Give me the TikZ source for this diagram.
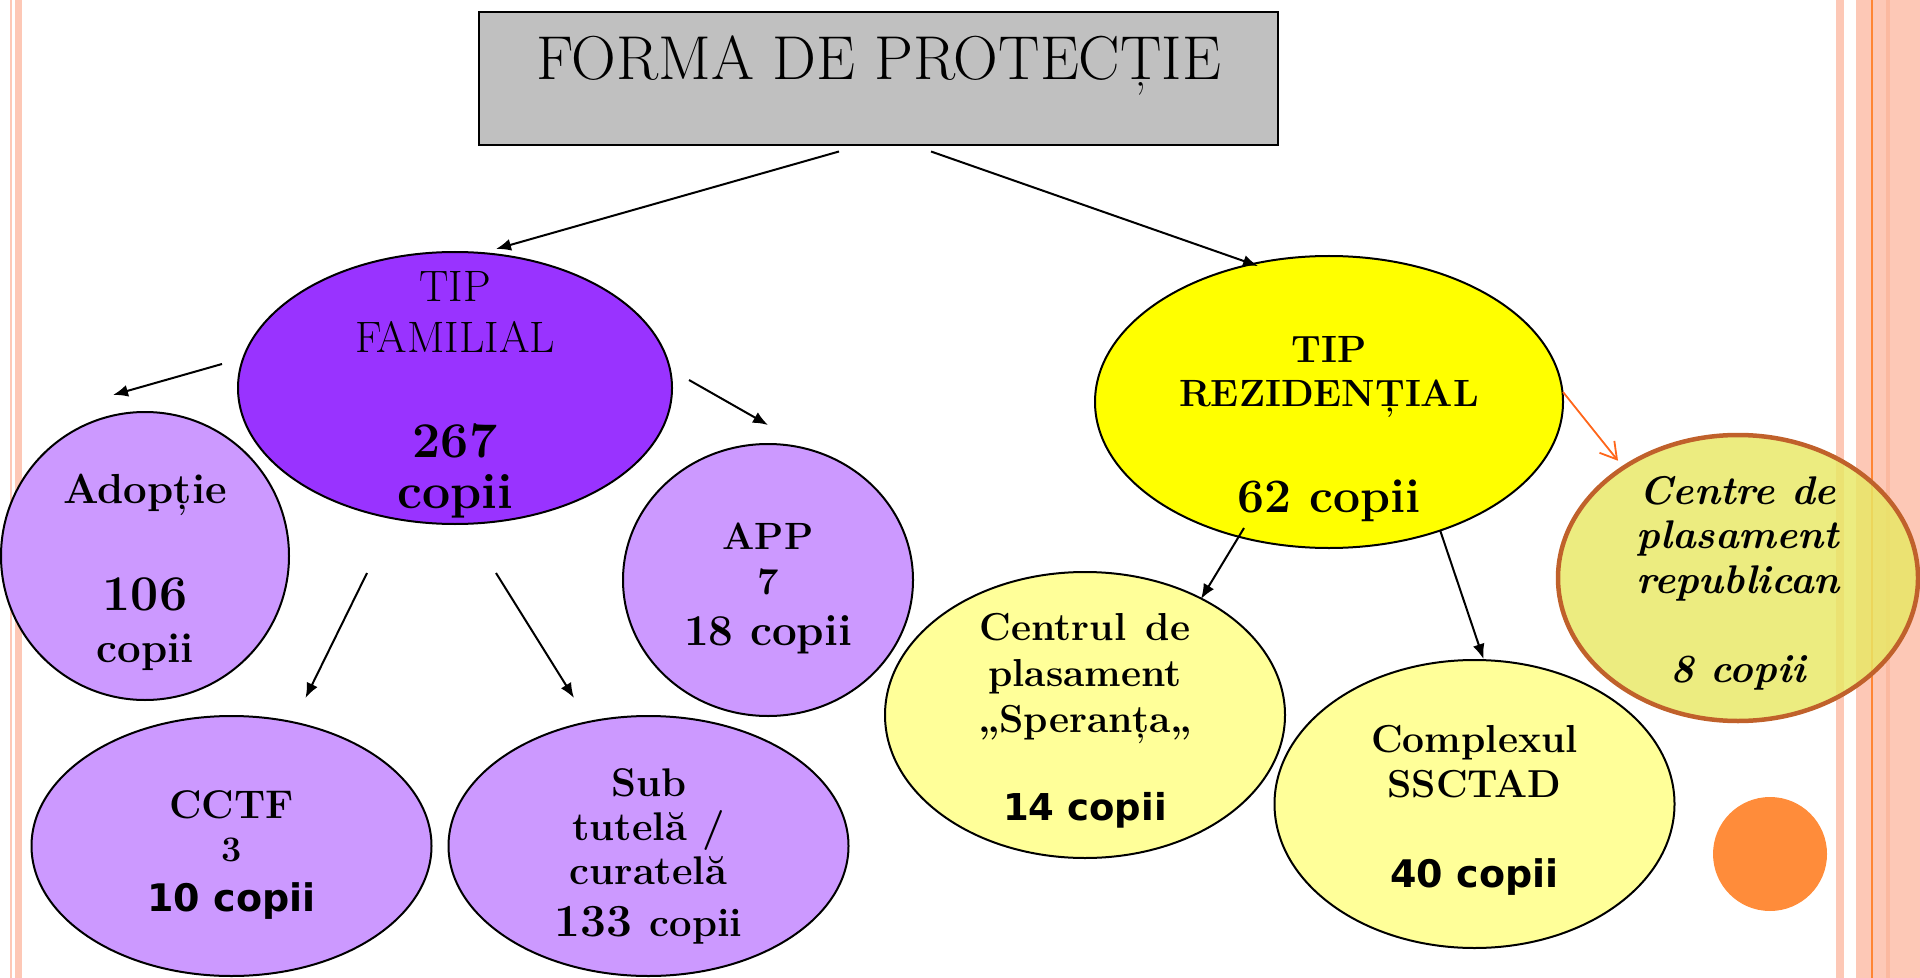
\documentclass[tikz,border=0pt]{standalone}
\usepackage{fontspec}
\newfontfamily\vsans{DejaVu Sans}
\usetikzlibrary{shapes.geometric,arrows.meta}

\definecolor{famviolet}{HTML}{9933FF}
\definecolor{lilac}{HTML}{CC99FF}
\definecolor{rezyellow}{HTML}{FFFF00}
\definecolor{paleyellow}{HTML}{FFFF99}
\definecolor{repyellow}{RGB}{232,232,100}
\definecolor{repborder}{RGB}{192,97,43}
\definecolor{titlegray}{HTML}{C0C0C0}
\definecolor{bandpink}{RGB}{253,200,182}
\definecolor{banddark}{RGB}{251,185,160}
\definecolor{bandorange}{RGB}{255,133,51}
\definecolor{dotorange}{RGB}{255,140,58}
\definecolor{arroworange}{RGB}{255,102,26}

% text block that does not change the size of its bubble
\newcommand\inbox[2][0pt]{\smash{\makebox[0pt]{\raisebox{#1}{\parbox[c]{300pt}{\centering #2}}}}}

\begin{document}
\begin{tikzpicture}[x=0.5pt,y=-0.5pt,
  bubble/.style={ellipse,draw,line width=1pt,inner sep=0pt},
  arr/.style={-{Latex[length=7.5pt,width=6pt]},line width=1pt},
  arrorange/.style={-{Straight Barb[length=8pt,width=9.5pt]},draw=arroworange,line width=0.9pt}]

  \useasboundingbox (0,0) rectangle (1920,978);

  % slide border
  \fill[bandpink] (10,0) rectangle (12.3,978);
  \fill[bandpink] (14.7,0) rectangle (22,978);
  \fill[bandpink] (1836,0) rectangle (1844,978);
  \fill[bandpink] (1856,0) rectangle (1920,978);
  \fill[bandorange] (1871,0) rectangle (1873,978);
  \fill[banddark] (1886,0) rectangle (1890,978);
  \fill[dotorange] (1770,854) circle (57);

  \node[draw,fill=titlegray,line width=1pt,minimum width=399.5pt,inner xsep=0pt,
    inner ysep=12pt,text height=21.5pt,text depth=21pt] (title) at (878.5,79)
    {\fontsize{31}{31}\selectfont FORMA DE PROTECȚIE};

  \node[bubble,fill=famviolet,minimum width=217pt,minimum height=136pt] (fam) at (455,388)
    {\inbox[-5.75pt]{\fontsize{22}{25.5}\selectfont TIP\\FAMILIAL\\[27pt]
      {\bfseries\fontsize{25}{25.5}\selectfont 267\\copii}}};
  \node[bubble,fill=lilac,minimum width=144pt,minimum height=144pt] (adop) at (145,556)
    {\inbox[-10.5pt]{\bfseries\fontsize{21}{26}\selectfont Adopție\\[27.5pt]
      {\fontsize{25}{26}\selectfont 106}\\copii}};
  \node[bubble,fill=lilac,minimum width=145pt,minimum height=136pt] (app) at (768,580)
    {\inbox[-6.5pt]{\bfseries\fontsize{19}{22.5}\selectfont APP\\7\\[3pt]
      {\fontsize{22}{22.5}\selectfont 18 copii}}};
  \node[bubble,fill=lilac,minimum width=200pt,minimum height=130pt] (cctf) at (231.5,846)
    {\inbox[-6.75pt]{\bfseries\fontsize{20}{21.5}\selectfont CCTF\\
      {\fontsize{18}{21.5}\selectfont 3}\\[3.5pt]
      {\vsans\fontsize{19}{21.5}\selectfont 10 copii}}};
  \node[bubble,fill=lilac,minimum width=200pt,minimum height=130pt] (sub) at (648.5,846)
    {\inbox[-7.75pt]{\bfseries\fontsize{20}{22}\selectfont Sub\\tutelă /\\curatelă\\[4pt]
      {\fontsize{23}{22}\selectfont 133 {\fontsize{20}{22}\selectfont copii}}}};

  \node[bubble,fill=rezyellow,minimum width=234pt,minimum height=146pt] (res) at (1329,402)
    {\inbox[-16.25pt]{\bfseries\fontsize{19}{22}\selectfont TIP\\REZIDENȚIAL\\[31pt]
      {\fontsize{24}{22}\selectfont 62 copii}}};
  \node[bubble,fill=paleyellow,minimum width=200pt,minimum height=143pt] (centrul) at (1085,715)
    {\inbox[-5.5pt]{\bfseries\fontsize{19.5}{23}\selectfont Centrul\enskip de\\plasament\\„Speranța„\\[21pt]
      {\vsans\fontsize{18.5}{23}\selectfont 14 copii}}};
  \node[bubble,fill=paleyellow,minimum width=200pt,minimum height=144pt] (complex) at (1474.5,804)
    {\inbox[-5.75pt]{\bfseries\fontsize{19.5}{22.5}\selectfont Complexul\\SSCTAD\\[22.5pt]
      {\vsans\fontsize{19}{22.5}\selectfont 40 copii}}};
  \node[bubble,draw=repborder,line width=2.25pt,fill=repyellow,fill opacity=0.82,text opacity=1,
    minimum width=180pt,minimum height=143pt] (centre) at (1738,578)
    {\inbox[-5pt]{\bfseries\itshape\fontsize{20}{22.25}\selectfont Centre de\\plasament\\republican\\[22.25pt]8 copii}};

  \path[arr]
   ([xshift=-19.75pt,yshift=-2.5pt]title.south) edge ([xshift=20.5pt,yshift=1pt]fam.north)
   ([xshift=26.25pt,yshift=-2.5pt]title.south) edge ([xshift=-35.5pt,yshift=-5.5pt]res.north)
   ([xshift=-7.5pt,yshift=12pt]fam.west) edge ([xshift=-16pt,yshift=8pt]adop.north)
   ([xshift=8pt,yshift=4pt]fam.east) edge ([yshift=9pt]app.north)
   ([xshift=-44pt,yshift=-24pt]fam.south) edge ([xshift=37pt,yshift=8.5pt]cctf.north)
   ([xshift=20.5pt,yshift=-24pt]fam.south) edge ([xshift=-37.25pt,yshift=8.5pt]sub.north)
   ([xshift=-42.5pt,yshift=10.5pt]res.south) edge ([xshift=58pt,yshift=-14pt]centrul.north)
   ([xshift=55.5pt,yshift=9.5pt]res.south) edge ([xshift=4.5pt]complex.north);
  \draw[arrorange] ([xshift=-0.5pt,yshift=5pt]res.east) -- ([xshift=-60pt,yshift=-14pt]centre.north);
\end{tikzpicture}
\end{document}
